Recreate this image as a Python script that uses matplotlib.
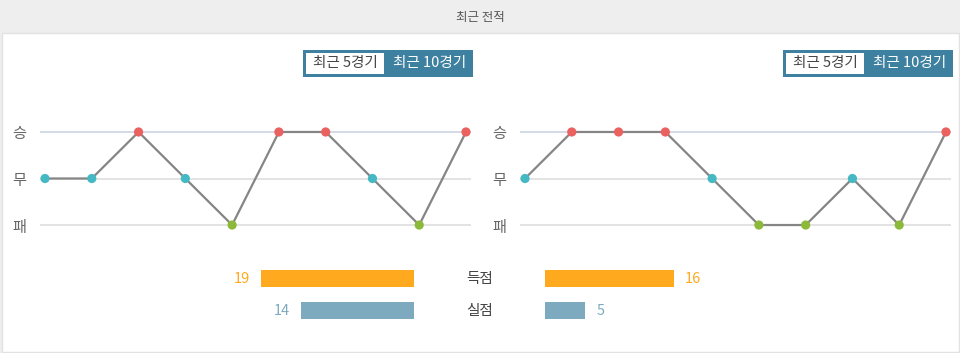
import matplotlib.pyplot as plt
from matplotlib.patches import Rectangle

plt.rcParams['font.family'] = ['Noto Sans CJK KR', 'DejaVu Sans']

W, H = 960, 353

# results: 2 = 승, 1 = 무, 0 = 패
home_results = [1, 1, 2, 1, 0, 2, 2, 1, 0, 2]
away_results = [1, 2, 2, 2, 1, 0, 0, 1, 0, 2]
level_labels = ['패', '무', '승']
level_colors = {2: '#ea6160', 1: '#45b9c3', 0: '#8db93b'}

stat_labels = ['득점', '실점']
home_stats = [19, 14]
away_stats = [16, 5]
stat_colors = ['#ffa91f', '#7eaac0']

buttons = ['최근 5경기', '최근 10경기']


def px_axes(fig, x, y, w, h, **kw):
    return fig.add_axes([x / W, 1 - (y + h) / H, w / W, h / H], **kw)


fig = plt.figure(figsize=(9.6, 3.53), dpi=100)

# background / header
bg = px_axes(fig, 0, 0, W, H)
bg.set_xlim(0, W)
bg.set_ylim(H, 0)
bg.axis('off')
bg.add_patch(Rectangle((0, 0), W, H, color='#eeeeee'))
bg.add_patch(Rectangle((1.5, 33), W - 3, 318.5, facecolor='white', edgecolor='#e2e2e2', lw=1))
bg.text(480, 17, '최근 전적', ha='center', va='center', fontsize=9, color='#555555')

# toggle buttons
for bx in (303, 783):
    bg.add_patch(Rectangle((bx, 50), 170, 27, facecolor='#3e80a0', edgecolor='none'))
    bg.add_patch(Rectangle((bx + 3, 53), 78, 21, facecolor='white', edgecolor='none'))
    bg.text(bx + 42, 63.5, buttons[0], ha='center', va='center', fontsize=10.5, color='#444444')
    bg.text(bx + 127, 63.5, buttons[1], ha='center', va='center', fontsize=10.5, color='white')


def form_chart(x0, results):
    ax = px_axes(fig, x0, 125, 431, 107)
    ax.set_xlim(-0.107, 9.107)
    ax.set_ylim(-0.15, 2.15)
    for lv in (0, 1, 2):
        ax.axhline(lv, color='#cdd4e2' if lv == 2 else '#dedede', lw=1.2, zorder=1)
    xs = range(len(results))
    ax.plot(xs, results, color='#858585', lw=1.6, zorder=2)
    ax.scatter(xs, results, s=44, c=[level_colors[r] for r in results], zorder=3, linewidths=0)
    ax.set_yticks([0, 1, 2])
    ax.set_yticklabels(level_labels, fontsize=11, color='#666666')
    ax.tick_params(axis='y', length=0, pad=10)
    ax.set_xticks([])
    for s in ax.spines.values():
        s.set_visible(False)
    ax.patch.set_alpha(0)


form_chart(40, home_results)
form_chart(520, away_results)

# goals bars
for side, vals in (('home', home_stats), ('away', away_stats)):
    x0 = 220 if side == 'home' else 545
    ax = px_axes(fig, x0, 262, 194, 64)
    ax.set_xlim(0, 24.1)
    if side == 'home':
        ax.invert_xaxis()
    ax.set_ylim(2, 0)
    ys = [0.52, 1.52]
    ax.barh(ys, vals, height=0.53, color=stat_colors)
    for y, v, c in zip(ys, vals, stat_colors):
        ax.annotate(str(v), (v, y), xytext=(-8 if side == 'home' else 8, 0),
                    textcoords='offset points', ha='right' if side == 'home' else 'left',
                    va='center', fontsize=10.5, color=c)
    ax.axis('off')

for i, lab in enumerate(stat_labels):
    bg.text(480, 279 + 32 * i, lab, ha='center', va='center', fontsize=10.5, color='#444444')

fig.savefig('out.png', dpi=100)
